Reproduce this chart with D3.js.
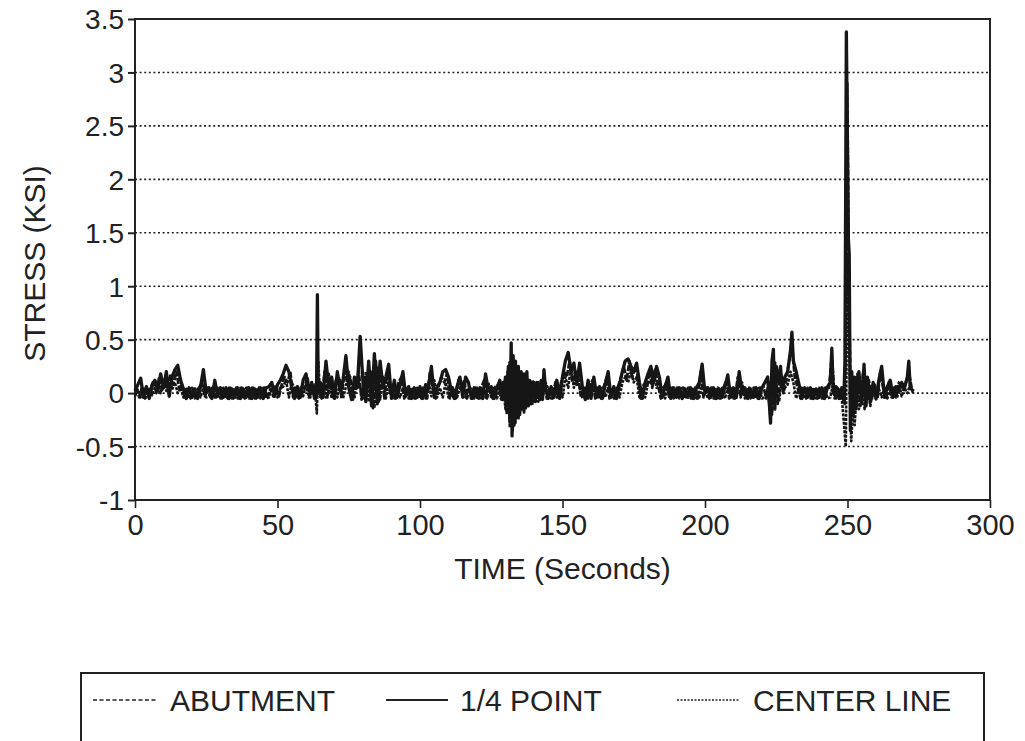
<!DOCTYPE html>
<html><head><meta charset="utf-8">
<script src="https://cdn.jsdelivr.net/npm/d3@7"></script>
<style>body{margin:0;background:#fff}svg{display:block}text{font-family:"Liberation Sans",Arial,sans-serif;fill:#222}</style>
</head><body>
<svg id="chart" width="1025" height="741"></svg>
<script>
// ---- data (time s, stress ksi) ----
const xTicks = [0, 50, 100, 150, 200, 250, 300];
const yTicks = [-1, -0.5, 0, 0.5, 1, 1.5, 2, 2.5, 3, 3.5];
const seriesNames = ["ABUTMENT", "1/4 POINT", "CENTER LINE"];

const quarterPoint = [
[0,0.02],[1,0.08],[2,0.14],[3,-0.04],[4,0.06],[5,-0.05],[6,0.08],[7,0.12],[8,0.02],[9,0.18],
[10,0.05],[11,0.2],[12,-0.03],[13,0.15],[14,0.22],[15,0.26],[16,0.12],[17,0.04],[18,-0.05],[19,0.05],
[20,-0.04],[21,0.04],[22,-0.05],[23,0.06],[24,0.22],[25,0.0],[26,0.05],[27,-0.05],[28,0.12],[29,-0.03],
[30,0.05],[31,-0.04],[32,0.05],[33,-0.05],[34,0.04],[35,-0.04],[36,0.05],[37,-0.05],[38,0.04],[39,-0.04],
[40,0.05],[41,-0.05],[42,0.04],[43,-0.04],[44,0.05],[45,-0.05],[46,0.05],[47,0.06],[48,0.1],[49,-0.03],
[50,0.08],[51,0.12],[52,0.18],[53,0.26],[54,0.2],[55,0.05],[56,-0.05],[57,0.06],[58,-0.04],[59,0.12],
[60,0.18],[61,0.02],[62,0.1],[63,-0.05],[63.7,0.05],[64,0.92],[64.3,0.0],[65,0.1],[66,-0.04],[67,0.3],
[68,0.05],[69,0.15],[70,-0.05],[71,0.2],[72,0.02],[73,0.12],[74,0.35],[75,0.05],[76,-0.06],[77,0.15],
[78,0.05],[79,0.53],[80,0.1],[81,-0.08],[82,0.3],[83,-0.12],[84,0.37],[85,-0.1],[86,0.3],[87,0.05],
[88,0.15],[89,0.27],[90,-0.05],[91,0.12],[92,-0.04],[93,0.08],[94,0.2],[95,-0.03],[96,0.06],[97,-0.05],
[98,0.05],[99,-0.04],[100,0.06],[101,-0.05],[102,0.08],[103,0.05],[104,0.25],[105,-0.04],[106,0.06],[107,0.1],
[108,0.2],[109,0.22],[110,0.15],[111,0.02],[112,-0.05],[113,0.06],[114,0.15],[115,-0.04],[116,0.15],[117,0.1],
[118,-0.05],[119,0.05],[120,-0.04],[121,0.05],[122,-0.05],[123,0.18],[124,0.02],[125,0.06],[126,-0.05],[127,0.05],
[128,0.12],[129,-0.06],[130,0.15],[130.5,-0.12],[131,0.25],[131.5,-0.25],[132,0.47],[132.3,-0.4],[132.7,0.35],[133,-0.3],
[133.5,0.3],[134,-0.22],[134.5,0.25],[135,-0.2],[135.5,0.2],[136,-0.15],[136.5,0.18],[137,-0.14],[137.5,0.2],[138,-0.12],
[138.5,0.12],[139,-0.1],[140,0.1],[140.5,-0.08],[141,0.1],[142,-0.06],[142.5,0.12],[143,-0.06],[143.5,0.22],[144,0.05],
[145,-0.05],[146,0.06],[147,-0.04],[148,0.12],[149,-0.05],[150,0.15],[151,0.3],[152,0.38],[153,0.2],[154,0.28],
[155,0.08],[156,0.28],[157,0.05],[158,-0.06],[159,0.12],[160,-0.05],[161,0.15],[162,-0.04],[163,0.06],[164,-0.05],
[165,0.08],[166,0.2],[167,-0.04],[168,0.06],[169,-0.05],[170,0.08],[171,0.2],[172,0.3],[173,0.32],[174,0.25],
[175,0.2],[176,0.28],[177,0.1],[178,-0.05],[179,0.1],[180,0.18],[181,0.25],[182,0.1],[183,0.25],[184,0.15],
[185,-0.04],[186,0.06],[187,0.15],[188,-0.05],[189,0.05],[190,-0.04],[191,0.05],[192,-0.05],[193,0.04],[194,-0.04],
[195,0.05],[196,-0.05],[197,0.05],[198,0.1],[199,0.27],[200,0.0],[201,0.05],[202,-0.04],[203,0.05],[204,-0.05],
[205,0.04],[206,-0.04],[207,0.06],[208,0.17],[209,-0.04],[210,0.05],[211,-0.04],[212,0.2],[213,0.0],[214,0.05],
[215,-0.05],[216,0.04],[217,-0.04],[218,0.05],[219,-0.05],[220,0.05],[221,0.1],[222,0.15],[223,-0.28],[223.5,0.3],
[224,0.41],[224.5,-0.15],[225,0.25],[226,0.1],[226.5,0.25],[227,0.05],[228,0.15],[229,0.2],[230,0.4],[230.5,0.57],
[231,0.3],[232,0.2],[233,0.08],[234,-0.05],[235,0.05],[236,-0.04],[237,0.05],[238,-0.05],[239,0.04],[240,-0.04],
[241,0.05],[242,-0.05],[243,0.06],[244,0.1],[244.5,0.42],[245,0.0],[246,0.06],[247,-0.05],[248,0.05],[248.7,-0.08],
[249.1,0.3],[249.6,3.38],[250.3,1.45],[250.6,1.3],[251,-0.35],[251.5,0.2],[252,-0.2],[252.5,0.15],[253,-0.15],[254,0.2],
[255,-0.1],[255.8,0.27],[256.5,-0.12],[257,0.15],[258,-0.08],[259,0.1],[260,-0.05],[261,0.12],[262,0.25],[263,-0.04],
[264,0.06],[265,0.12],[266,-0.04],[267,0.06],[268,0.05],[269,0.1],[270,0.05],[271,0.15],[271.5,0.3],[272,0.05],[273,0.02]
];

const abutment = [
[0.5,0.05],[1.5,-0.04],[2.5,0.06],[3.5,-0.05],[4.5,0.05],[5.5,0.02],[6.5,0.12],[7.5,0.0],[8.5,0.15],[9.5,0.03],
[10.5,0.12],[11.5,0.05],[12.5,0.18],[13.5,0.08],[14.5,0.2],[15.5,0.05],[16.5,0.08],[17.5,-0.04],[18.5,0.05],[19.5,-0.05],
[20.5,0.04],[21.5,-0.04],[22.5,0.05],[23.5,0.1],[24.5,-0.03],[25.5,0.05],[26.5,-0.04],[27.5,0.06],[28.5,-0.04],[29.5,0.05],
[30.5,-0.05],[31.5,0.05],[32.5,-0.05],[33.5,0.05],[34.5,-0.05],[35.5,0.05],[36.5,-0.05],[37.5,0.05],[38.5,-0.05],[39.5,0.05],
[40.5,-0.05],[41.5,0.05],[42.5,-0.05],[43.5,0.05],[44.5,-0.05],[45.5,0.05],[46.5,-0.05],[47.5,0.04],[48.5,-0.03],[49.5,0.06],
[50.5,-0.03],[51.5,0.08],[52.5,0.15],[53.5,0.1],[54.5,0.2],[55.5,-0.04],[56.5,0.05],[57.5,-0.05],[58.5,0.06],[59.5,0.04],
[60.5,0.15],[61.5,-0.04],[62.5,0.06],[63.5,-0.05],[64.5,0.05],[65.5,-0.05],[66.5,0.2],[67.5,-0.04],[68.5,0.1],[69.5,-0.05],
[70.5,0.12],[71.5,0.15],[72.5,-0.05],[73.5,0.2],[74.5,0.1],[75.5,0.15],[76.5,-0.06],[77.5,0.08],[78.5,0.2],[79.5,-0.06],
[80.5,0.15],[81.5,0.05],[82.5,0.2],[83.5,-0.14],[84.5,0.3],[85.5,-0.08],[86.5,0.2],[87.5,-0.05],[88.5,0.2],[89.5,0.0],
[90.5,0.08],[91.5,-0.05],[92.5,0.1],[93.5,0.15],[94.5,-0.05],[95.5,0.05],[96.5,-0.05],[97.5,0.05],[98.5,-0.05],[99.5,0.05],
[100.5,-0.05],[101.5,0.05],[102.5,-0.05],[103.5,0.2],[104.5,0.05],[105.5,-0.05],[106.5,0.06],[107.5,0.15],[108.5,0.1],[109.5,0.18],
[110.5,-0.05],[111.5,0.05],[112.5,-0.05],[113.5,0.12],[114.5,0.03],[115.5,0.12],[116.5,-0.05],[117.5,0.05],[118.5,-0.05],[119.5,0.05],
[120.5,-0.05],[121.5,0.05],[122.5,0.12],[123.5,-0.05],[124.5,0.05],[125.5,-0.05],[126.5,0.06],[127.5,0.08],[128.5,-0.06],[129.5,0.1],
[130.5,-0.2],[131.5,0.3],[132.5,-0.35],[133.5,0.25],[134.5,-0.25],[135.5,0.15],[136.5,-0.18],[137.5,0.12],[138.5,-0.1],[139.5,0.12],
[140.5,-0.08],[141.5,0.1],[142.5,-0.05],[143.5,0.15],[144.5,-0.05],[145.5,0.05],[146.5,-0.05],[147.5,0.1],[148.5,-0.04],[149.5,0.1],
[150.5,0.2],[151.5,0.15],[152.5,0.3],[153.5,0.1],[154.5,0.2],[155.5,0.15],[156.5,-0.04],[157.5,0.05],[158.5,-0.05],[159.5,0.06],
[160.5,0.12],[161.5,-0.05],[162.5,0.05],[163.5,-0.05],[164.5,0.06],[165.5,0.15],[166.5,-0.05],[167.5,0.05],[168.5,-0.05],[169.5,0.06],
[170.5,0.15],[171.5,0.25],[172.5,0.12],[173.5,0.3],[174.5,0.15],[175.5,0.25],[176.5,0.15],[177.5,-0.05],[178.5,0.08],[179.5,0.05],
[180.5,0.2],[181.5,0.05],[182.5,0.22],[183.5,0.08],[184.5,-0.05],[185.5,0.05],[186.5,0.1],[187.5,-0.05],[188.5,0.05],[189.5,-0.05],
[190.5,0.05],[191.5,-0.05],[192.5,0.05],[193.5,-0.05],[194.5,0.05],[195.5,-0.05],[196.5,0.05],[197.5,-0.05],[198.5,0.2],[199.5,-0.04],
[200.5,0.05],[201.5,-0.05],[202.5,0.05],[203.5,-0.05],[204.5,0.05],[205.5,-0.05],[206.5,0.05],[207.5,0.12],[208.5,-0.05],[209.5,0.05],
[210.5,-0.05],[211.5,0.15],[212.5,-0.04],[213.5,0.05],[214.5,-0.05],[215.5,0.05],[216.5,-0.05],[217.5,0.05],[218.5,-0.05],[219.5,0.05],
[220.5,0.06],[221.5,-0.05],[222.5,0.1],[223.5,-0.2],[224.5,0.3],[225.5,-0.1],[226.5,0.2],[227.5,0.0],[228.5,0.12],[229.5,0.3],
[230.5,0.45],[231.5,0.15],[232.5,0.05],[233.5,-0.05],[234.5,0.05],[235.5,-0.05],[236.5,0.05],[237.5,-0.05],[238.5,0.05],[239.5,-0.05],
[240.5,0.05],[241.5,-0.05],[242.5,0.05],[243.5,0.05],[244.5,0.35],[245.5,-0.05],[246.5,0.05],[247.5,-0.05],[248.5,0.05],[249.0,-0.1],
[249.4,0.55],[249.9,2.9],[250.5,1.0],[251.2,-0.25],[251.5,0.15],[252.5,-0.15],[253.5,0.18],[254.5,-0.12],[255.5,0.2],[256.5,-0.1],
[257.5,0.12],[258.5,-0.06],[259.5,0.08],[260.5,-0.05],[261.5,0.2],[262.5,0.05],[263.5,-0.04],[264.5,0.1],[265.5,-0.04],[266.5,0.05],
[267.5,-0.03],[268.5,0.08],[269.5,0.03],[270.5,0.1],[271.5,0.2],[272.5,0.05],[273.2,0.02]
];

const centerLine = [
[0,-0.03],[1,0.03],[2,-0.04],[3,0.05],[4,-0.04],[5,0.05],[6,-0.02],[7,0.06],[8,0.1],[9,0.0],
[10,0.12],[11,0.02],[12,0.15],[13,0.03],[14,0.1],[15,0.0],[16,0.05],[17,-0.04],[18,0.04],[19,-0.05],
[20,0.05],[21,-0.05],[22,0.04],[23,-0.04],[24,0.05],[25,-0.04],[26,-0.03],[27,0.05],[28,-0.04],[29,0.05],
[30,-0.05],[31,0.05],[32,-0.05],[33,0.05],[34,-0.05],[35,0.05],[36,-0.05],[37,0.05],[38,-0.05],[39,0.05],
[40,-0.05],[41,0.05],[42,-0.05],[43,0.05],[44,-0.05],[45,0.05],[46,-0.05],[47,-0.04],[48,0.05],[49,0.06],
[50,-0.04],[51,0.05],[52,0.06],[53,0.12],[54,-0.04],[55,0.1],[56,0.04],[57,-0.04],[58,0.05],[59,-0.03],
[60,0.08],[61,-0.04],[62,0.05],[63,0.08],[63.8,-0.19],[64.3,0.3],[65,-0.05],[66,0.1],[67,-0.04],[68,0.18],
[69,-0.05],[70,0.1],[71,-0.04],[72,0.12],[73,-0.05],[74,0.06],[75,0.2],[76,0.05],[77,-0.05],[78,0.15],
[79,0.05],[80,-0.05],[81,0.2],[82,-0.08],[83,0.2],[84,-0.14],[85,0.25],[86,-0.06],[87,0.15],[88,-0.05],
[89,0.1],[90,0.05],[91,-0.05],[92,0.06],[93,-0.04],[94,0.05],[95,0.05],[96,-0.05],[97,0.05],[98,-0.05],
[99,0.05],[100,-0.05],[101,0.05],[102,-0.05],[103,0.1],[104,-0.03],[105,0.12],[106,-0.04],[107,0.05],[108,-0.04],
[109,0.1],[110,-0.04],[111,0.06],[112,0.04],[113,-0.04],[114,0.05],[115,0.1],[116,-0.04],[117,0.05],[118,0.04],
[119,-0.05],[120,0.05],[121,-0.05],[122,0.05],[123,-0.04],[124,0.1],[125,-0.05],[126,0.05],[127,-0.05],[128,0.05],
[129,0.1],[130,-0.15],[130.7,0.2],[131.5,-0.32],[132.5,0.2],[133.5,-0.28],[134.5,0.15],[135.5,-0.15],[136.5,0.12],[137.5,-0.12],
[138.5,0.08],[139.5,-0.1],[140.5,0.08],[141.5,-0.08],[142.5,0.05],[143,-0.05],[144,0.1],[145,0.04],[146,-0.05],[147,0.05],
[148,-0.04],[149,0.06],[150,-0.04],[151,0.15],[152,0.05],[153,0.25],[154,0.05],[155,0.2],[156,0.05],[157,-0.05],
[158,0.05],[159,-0.05],[160,0.08],[161,0.02],[162,0.05],[163,-0.05],[164,0.05],[165,-0.04],[166,0.05],[167,0.05],
[168,-0.05],[169,0.05],[170,-0.04],[171,0.1],[172,0.15],[173,0.1],[174,0.2],[175,0.1],[176,0.15],[177,-0.04],
[178,0.05],[179,-0.04],[180,0.1],[181,0.1],[182,0.2],[183,0.05],[184,0.06],[185,0.05],[186,-0.05],[187,0.06],
[188,0.04],[189,-0.05],[190,0.05],[191,-0.05],[192,0.05],[193,-0.05],[194,0.05],[195,-0.05],[196,0.05],[197,-0.05],
[198,-0.04],[199,0.08],[200,0.04],[201,-0.05],[202,0.05],[203,-0.05],[204,0.05],[205,-0.05],[206,0.05],[207,-0.05],
[208,0.05],[209,0.05],[210,-0.05],[211,0.05],[212,0.05],[213,0.1],[214,-0.05],[215,0.05],[216,-0.05],[217,0.05],
[218,-0.05],[219,0.05],[220,-0.05],[221,-0.04],[222,0.05],[223,-0.25],[223.7,0.2],[224.3,-0.1],[225,0.1],[226,-0.08],
[227,0.15],[228,0.05],[229,0.08],[230,0.2],[231,0.1],[232,-0.05],[233,0.05],[234,0.05],[235,-0.05],[236,0.05],
[237,-0.05],[238,0.05],[239,-0.05],[240,0.05],[241,-0.05],[242,0.05],[243,-0.05],[244,-0.04],[245,0.1],[246,-0.05],
[247,0.05],[248,-0.05],[248.8,-0.3],[249.4,-0.5],[250.0,1.3],[250.6,0.4],[251.3,-0.45],[252,-0.1],[252.5,-0.3],[253.3,0.05],
[254,-0.15],[255,0.05],[256,-0.15],[257,0.05],[258,-0.12],[259,0.05],[260,-0.06],[261,0.04],[262,-0.04],[263,0.05],
[264,-0.05],[265,0.04],[266,0.05],[267,-0.04],[268,0.1],[269,-0.03],[270,0.05],[271,0.0],[272,0.08],[273,0.0]
];

// ---- layout ----
const svg = d3.select("#chart");
const L = 135, R = 990, T = 19, B = 500;
const ink = "#222";
const dataInk = "#161616";
const x = d3.scaleLinear().domain([0, 300]).range([L, R]);
const y = d3.scaleLinear().domain([-1, 3.5]).range([B, T]);

// gridlines
svg.append("g").selectAll("line")
  .data(yTicks.filter(v => v > -1 && v < 3.5))
  .join("line")
  .attr("x1", L).attr("x2", R)
  .attr("y1", d => y(d)).attr("y2", d => y(d))
  .attr("stroke", ink).attr("stroke-width", 1.6).attr("stroke-dasharray", "2,2.6");

// axes
const yAxis = d3.axisLeft(y).tickValues(yTicks).tickSize(7).tickSizeOuter(0)
  .tickFormat(d => String(d));
const gy = svg.append("g").attr("transform", `translate(${L},0)`).call(yAxis);
gy.select(".domain").remove();
gy.selectAll(".tick line").attr("stroke", ink).attr("stroke-width", 2);
gy.selectAll(".tick text").attr("font-size", 28).attr("x", -11).attr("dy", "0.35em")
  .attr("fill", ink).attr("font-family", '"Liberation Sans",Arial,sans-serif');

const xAxis = d3.axisBottom(x).tickValues(xTicks).tickSize(8).tickSizeOuter(0);
const gx = svg.append("g").attr("transform", `translate(0,${B})`).call(xAxis);
gx.select(".domain").remove();
gx.selectAll(".tick line").attr("stroke", ink).attr("stroke-width", 1.6);
gx.selectAll(".tick text").attr("font-size", 29).attr("y", 10).attr("dy", "0.85em")
  .attr("fill", ink).attr("font-family", '"Liberation Sans",Arial,sans-serif');

// frame
svg.append("rect").attr("x", L).attr("y", T).attr("width", R - L).attr("height", B - T)
  .attr("fill", "none").attr("stroke", ink).attr("stroke-width", 2);

// series
const line = d3.line().x(d => x(d[0])).y(d => y(d[1]));
const seriesData = [abutment, quarterPoint, centerLine];
const seriesDash = ["6,1.5", null, "3,1.2"];
const seriesWidth = [2.8, 3.3, 2.6];
[0, 2, 1].forEach(i => {
  svg.append("path").datum(seriesData[i]).attr("d", line)
    .attr("fill", "none").attr("stroke", dataInk)
    .attr("stroke-width", seriesWidth[i])
    .attr("stroke-dasharray", seriesDash[i])
    .attr("stroke-linejoin", "round");
});

// axis titles
svg.append("text").attr("x", (L + R) / 2).attr("y", 579).attr("text-anchor", "middle")
  .attr("font-size", 30).text("TIME (Seconds)");
svg.append("text").attr("transform", `translate(45,${(T + B) / 2 + 4}) rotate(-90)`)
  .attr("text-anchor", "middle").attr("font-size", 30).text("STRESS (KSI)");

// legend
svg.append("rect").attr("x", 81).attr("y", 673).attr("width", 903).attr("height", 80)
  .attr("fill", "none").attr("stroke", ink).attr("stroke-width", 2);
const legX = [[93, 156, 170], [386, 448, 460], [677, 739, 753]];
const legOrder = [0, 1, 2];
const lg = svg.append("g").selectAll("g").data(legOrder).join("g");
lg.append("line").attr("x1", i => legX[i][0]).attr("x2", i => legX[i][1])
  .attr("y1", 700).attr("y2", 700).attr("stroke", ink)
  .attr("stroke-width", i => i === 1 ? 1.8 : 1.5)
  .attr("stroke-dasharray", i => i === 0 ? "4,2.5" : (i === 2 ? "2,1.5" : null));
lg.append("text").attr("x", i => legX[i][2]).attr("y", 711).attr("font-size", 30)
  .text(i => seriesNames[i]);
</script>
</body></html>
